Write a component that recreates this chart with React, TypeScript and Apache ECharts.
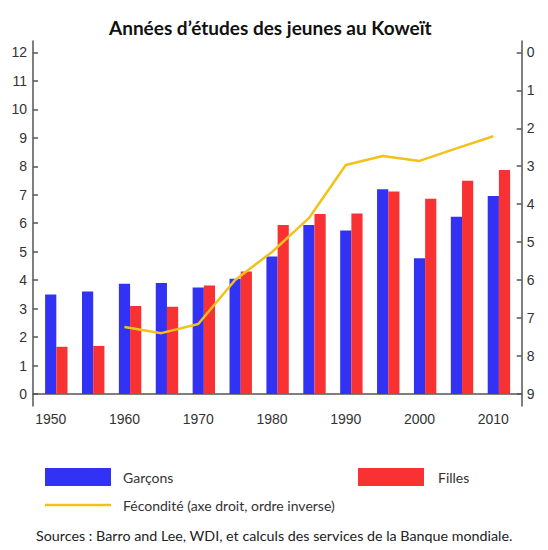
import React, { useEffect, useRef } from "react";
import * as echarts from "echarts";

const years = [1950, 1955, 1960, 1965, 1970, 1975, 1980, 1985, 1990, 1995, 2000, 2005, 2010];
const garcons = [3.5, 3.6, 3.87, 3.9, 3.74, 4.05, 4.83, 5.94, 5.74, 7.19, 4.77, 6.23, 6.96];
const filles = [1.66, 1.69, 3.09, 3.07, 3.81, 4.3, 5.94, 6.32, 6.34, 7.11, 6.86, 7.49, 7.87];
const fecYears = [1960, 1965, 1970, 1975, 1980, 1985, 1990, 1995, 2000, 2005, 2010];
const fecondite = [7.24, 7.4, 7.16, 6.0, 5.26, 4.37, 2.97, 2.73, 2.86, 2.53, 2.21];
const leftTicks = [0, 1, 2, 3, 4, 5, 6, 7, 8, 9, 10, 11, 12];
const rightTicks = [0, 1, 2, 3, 4, 5, 6, 7, 8, 9];
const xTickYears = [1950, 1955, 1960, 1965, 1970, 1975, 1980, 1985, 1990, 1995, 2000, 2005, 2010];
const xLabelYears = [1950, 1960, 1970, 1980, 1990, 2000, 2010];

const TITLE = "Années d\u2019études des jeunes au Koweït";
const SOURCE = "Sources : Barro and Lee, WDI, et calculs des services de la Banque mondiale.";
const S_G = "Garçons";
const S_F = "Filles";
const S_FEC = "Fécondité (axe droit, ordre inverse)";

const BLUE = "#3232f5";
const RED = "#f83232";
const YELLOW = "#f2c21a";
const AXIS = "#555555";
const TXT = "#333333";
const LABEL_FONT = "Liberation Sans";
const TEXT_FONT = "Lato";

export default function App() {
  const ref = useRef<HTMLDivElement>(null);
  useEffect(() => {
    if (!ref.current) return;
    const chart = echarts.init(ref.current, undefined, { renderer: "svg" });
    const xMin = 1947.6;
    const xMax = 2013.85;
    const shift = 0.76;
    const axisLine = { show: true, lineStyle: { color: AXIS, width: 1.5 } };
    const lbl = { color: TXT, fontSize: 14, fontFamily: LABEL_FONT };
    const legendText = (pad: number) => ({
      fontFamily: TEXT_FONT,
      fontSize: 14,
      color: TXT,
      padding: [0, 0, 0, pad],
    });
    chart.setOption({
      animation: false,
      backgroundColor: "#ffffff",
      title: {
        text: TITLE,
        left: 104,
        top: 13,
        textStyle: { fontFamily: TEXT_FONT, fontWeight: "bold", fontSize: 19, color: "#111" },
      },
      grid: { left: 33, right: 26.3, top: 41, bottom: 144, containLabel: false },
      xAxis: [
        {
          type: "value",
          min: xMin,
          max: xMax,
          axisLine,
          splitLine: { show: false },
          axisTick: { show: true, inside: true, length: 7, customValues: xTickYears, lineStyle: { color: AXIS, width: 1.5 } },
          axisLabel: { ...lbl, customValues: xLabelYears, margin: 6, formatter: (v: number) => String(v) },
        },
        {
          type: "value",
          min: xMin - shift,
          max: xMax - shift,
          show: false,
          splitLine: { show: false },
        },
      ],
      yAxis: [
        {
          type: "value",
          min: -0.42,
          max: 12.4,
          position: "left",
          axisLine,
          splitLine: { show: false },
          axisTick: { show: true, inside: true, length: 5, customValues: leftTicks, lineStyle: { color: AXIS, width: 1.5 } },
          axisLabel: { ...lbl, customValues: leftTicks, margin: 6, formatter: (v: number) => String(v) },
        },
        {
          type: "value",
          min: -0.3,
          max: 9.32,
          inverse: true,
          position: "right",
          axisLine,
          splitLine: { show: false },
          axisTick: { show: true, inside: true, length: 5, customValues: rightTicks, lineStyle: { color: AXIS, width: 1.5 } },
          axisLabel: { ...lbl, customValues: rightTicks, margin: 5, formatter: (v: number) => String(v) },
        },
      ],
      legend: [
        {
          data: [{ name: S_G, icon: "rect" }],
          left: 45,
          top: 468,
          padding: 0,
          itemWidth: 66,
          itemHeight: 18,
          textStyle: legendText(7),
        },
        {
          data: [{ name: S_F, icon: "rect" }],
          left: 358,
          top: 468,
          padding: 0,
          itemWidth: 66,
          itemHeight: 18,
          textStyle: legendText(9),
        },
        {
          data: [{ name: S_FEC, icon: "rect" }],
          left: 45,
          top: 498,
          padding: 0,
          itemWidth: 66,
          itemHeight: 2.5,
          textStyle: legendText(7),
        },
      ],
      graphic: [
        {
          type: "text",
          left: 36,
          top: 528,
          style: { text: SOURCE, fontFamily: TEXT_FONT, fontSize: 14.3, fill: "#222" },
        },
      ],
      series: [
        {
          name: S_G,
          type: "bar",
          xAxisIndex: 1,
          yAxisIndex: 0,
          barWidth: 11.2,
          barGap: "0%",
          itemStyle: { color: BLUE },
          data: years.map((y, i) => [y, garcons[i]]),
        },
        {
          name: S_F,
          type: "bar",
          xAxisIndex: 1,
          yAxisIndex: 0,
          barWidth: 11.2,
          barGap: "0%",
          itemStyle: { color: RED },
          data: years.map((y, i) => [y, filles[i]]),
        },
        {
          name: S_FEC,
          type: "line",
          xAxisIndex: 0,
          yAxisIndex: 1,
          symbol: "none",
          showSymbol: false,
          lineStyle: { color: YELLOW, width: 2.5 },
          itemStyle: { color: YELLOW },
          data: fecYears.map((y, i) => [y, fecondite[i]]),
        },
      ],
    });
    return () => chart.dispose();
  }, []);
  return <div ref={ref} style={{ width: 548, height: 550, position: "absolute", left: 0, top: 0 }} />;
}
